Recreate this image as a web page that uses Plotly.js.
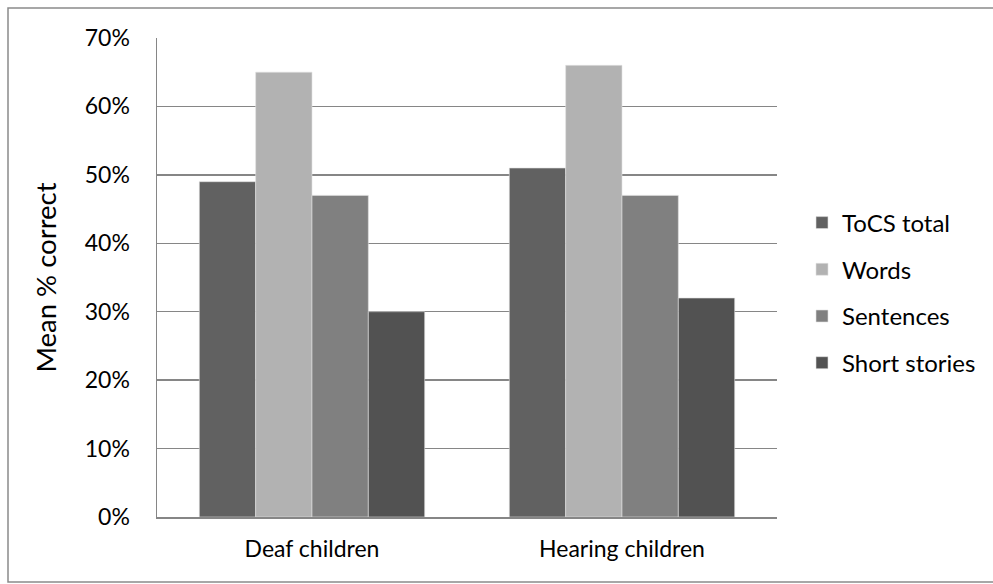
<!DOCTYPE html>
<html>
<head>
<meta charset="utf-8">
<script src="https://cdn.plot.ly/plotly-3.0.1.min.js"></script>
<style>html,body{margin:0;padding:0;background:#fff;}#chart{width:993px;height:584px;}</style>
</head>
<body>
<div id="chart"></div>
<script>
const categories = ["Deaf children", "Hearing children"];
const seriesNames = ["ToCS total", "Words", "Sentences", "Short stories"];
const tocsTotal = [0.49, 0.51];
const words = [0.65, 0.66];
const sentences = [0.47, 0.47];
const shortStories = [0.30, 0.32];
const seriesColors = ["#616161", "#b2b2b2", "#808080", "#525252"];
const yTickVals = [0, 0.1, 0.2, 0.3, 0.4, 0.5, 0.6, 0.7];
const yTickText = ["0%", "10%", "20%", "30%", "40%", "50%", "60%", "70%"];

const values = [tocsTotal, words, sentences, shortStories];
const traces = seriesNames.map((name, i) => ({
  type: "bar",
  name: name,
  x: categories,
  y: values[i],
  legendgroup: "g" + i,
  marker: { color: seriesColors[i], line: { color: "#e0e0e0", width: 0.6 } },
  hoverinfo: "x+y+name"
}));

const W = 993, H = 584, L = 157, R = 777, T = 38, B = 517;
const pw = R - L, ph = B - T;
const px = v => (v - L) / pw;
const py = v => (B - v) / ph;

const layout = {
  width: W, height: H,
  margin: { l: L, r: W - R, t: T, b: H - B, pad: 0, autoexpand: false },
  paper_bgcolor: "#ffffff",
  plot_bgcolor: "#ffffff",
  font: { family: "Lato, 'Open Sans', sans-serif", size: 23, color: "#000" },
  barmode: "group",
  bargap: 0.273,
  bargroupgap: 0,
  showlegend: true,
  legend: {
    x: px(802), y: py(293), xanchor: "left", yanchor: "middle",
    font: { size: 24, family: "Lato, 'Open Sans', sans-serif" },
    traceorder: "grouped",
    tracegroupgap: 12.5,
    bgcolor: "rgba(0,0,0,0)"
  },
  xaxis: {
    type: "category",
    showgrid: false,
    showline: true, linecolor: "#868686", linewidth: 1.5,
    ticks: "",
    ticklabelstandoff: 11,
    tickfont: { size: 23 },
    fixedrange: true
  },
  yaxis: {
    range: [0, 0.7],
    tickvals: yTickVals,
    ticktext: yTickText,
    showgrid: true, gridcolor: "#868686", gridwidth: 1.5,
    showline: true, linecolor: "#868686", linewidth: 1.5,
    zeroline: false,
    ticks: "",
    ticklabelstandoff: 21,
    tickfont: { size: 23 },
    title: { text: "Mean % correct", font: { size: 27.5 }, standoff: 20 },
    fixedrange: true
  },
  shapes: [{
    type: "rect", xref: "paper", yref: "paper",
    x0: px(8), x1: px(1000), y0: py(582), y1: py(8),
    line: { color: "#8a8a8a", width: 1.5 },
    fillcolor: "rgba(0,0,0,0)", layer: "below"
  }]
};

Plotly.newPlot("chart", traces, layout, { displayModeBar: false, staticPlot: true });
</script>
</body>
</html>
